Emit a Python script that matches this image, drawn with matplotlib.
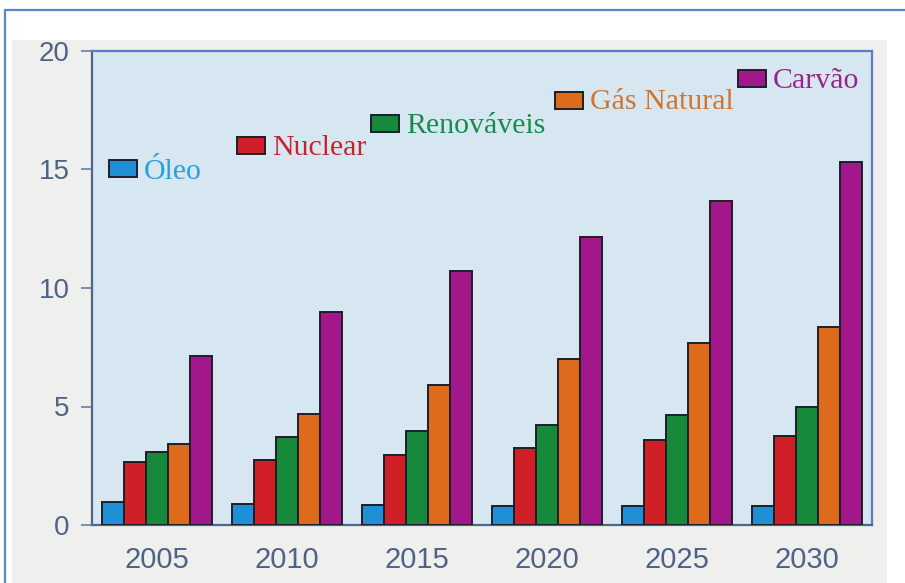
import matplotlib
matplotlib.use("Agg")
import matplotlib.pyplot as plt
from matplotlib.patches import Rectangle
import numpy as np

years = ["2005", "2010", "2015", "2020", "2025", "2030"]
series = ["Óleo", "Nuclear", "Renováveis", "Gás Natural", "Carvão"]
oleo = [0.97, 0.9, 0.85, 0.8, 0.8, 0.8]
nuclear = [2.65, 2.75, 2.95, 3.25, 3.6, 3.75]
renovaveis = [3.1, 3.7, 3.95, 4.2, 4.65, 5.0]
gas_natural = [3.4, 4.7, 5.9, 7.0, 7.7, 8.35]
carvao = [7.15, 9.0, 10.7, 12.15, 13.67, 15.3]
yticks = [0, 5, 10, 15, 20]

values = [oleo, nuclear, renovaveis, gas_natural, carvao]
colors = ["#1f8fd6", "#d01f26", "#168a3a", "#de6a1c", "#a2178a"]
text_colors = ["#2a9fdc", "#c8232c", "#1a8a4a", "#d0742e", "#9a2488"]

W, H = 905, 583
fig = plt.figure(figsize=(W / 100, H / 100), dpi=100)
fig.patch.set_facecolor("white")

# outer blue frame and gray panel
fig.add_artist(Rectangle((5 / W, -0.01), 1.0, 1 - 10 / H + 0.01, transform=fig.transFigure,
                         facecolor="white", edgecolor="#5b86c8", lw=1.6, zorder=0))
fig.add_artist(Rectangle((12 / W, 0), (887 - 12) / W, 1 - 40 / H, transform=fig.transFigure,
                         facecolor="#efefed", edgecolor="none", zorder=0.5))

ax = fig.add_axes([92 / W, 1 - 525 / H, (872 - 92) / W, (525 - 51) / H])
ax.set_zorder(2)
ax.set_facecolor("#d6e7f1")

x = np.arange(len(years))
bw = 0.17
for i, (vals, c) in enumerate(zip(values, colors)):
    ax.bar(x + (i - 2) * bw, vals, width=bw, color=c, edgecolor="#1e1e28", linewidth=1.4, zorder=3)

ax.set_xlim(-0.5, 5.5)
ax.set_ylim(0, 20)
ax.set_yticks(yticks)
ax.set_yticklabels([str(t) for t in yticks])
ax.set_xticks(x)
ax.set_xticklabels(years)
tick_color = "#4f6388"
ax.tick_params(axis="y", length=8, width=1.3, color="#6f86ac", labelsize=20, labelcolor=tick_color, pad=8, direction="out")
ax.tick_params(axis="x", length=0, labelsize=21, labelcolor=tick_color, pad=15)
for lbl in ax.get_xticklabels() + ax.get_yticklabels():
    lbl.set_fontfamily("Liberation Sans")
for s in ["left", "bottom"]:
    ax.spines[s].set_color("#51648c")
    ax.spines[s].set_linewidth(1.6)
for s in ["top", "right"]:
    ax.spines[s].set_color("#5b7cc0")
    ax.spines[s].set_linewidth(1.6)

# legend entries placed like the original (axes fraction)
legend_pos = [(109, 160, 172), (237, 137, 148), (371, 115, 126), (555, 92, 102), (738, 70, 81)]
box_w, box_h = 28, 17
for (px, py, ty), name, c, tc in zip(legend_pos, series, colors, text_colors):
    bx = (px - 92) / 780
    by = (525 - py - box_h) / 474
    ax.add_patch(Rectangle((bx, by), box_w / 780, box_h / 474, transform=ax.transAxes,
                           facecolor=c, edgecolor="#1e1e28", lw=1.4, zorder=4, clip_on=False))
    ax.text((px + box_w + 7 - 92) / 780, (525 - ty) / 474, name, transform=ax.transAxes,
            color=tc, fontsize=21.5, fontfamily="Liberation Serif", va="center", ha="left", zorder=4)

fig.savefig("out.png", dpi=100, facecolor="white")
